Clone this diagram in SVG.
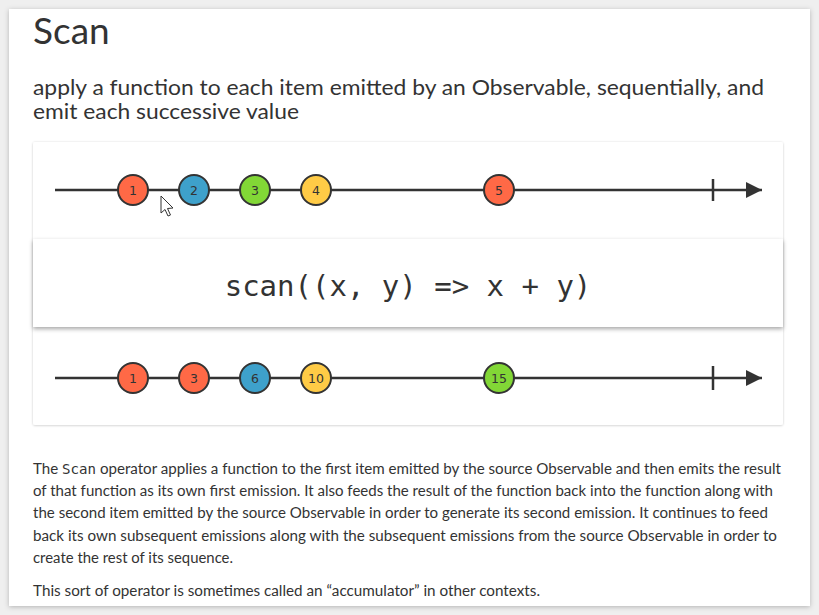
<svg xmlns="http://www.w3.org/2000/svg" width="819" height="615" viewBox="0 0 819 615">
<defs>
<style>
.title{font-family:Lato,"Open Sans",sans-serif;fill:#333;}
.body{font-family:Lato,"Open Sans",sans-serif;font-size:14.5px;fill:#333;}
.code{font-family:"DejaVu Sans Mono","Liberation Mono",monospace;}
.line{stroke:#333;stroke-width:2.5;fill:none;}
.m{stroke:#333;stroke-width:2;}
.lbl{font-family:"DejaVu Sans",Verdana,sans-serif;font-size:12.5px;fill:#333;text-anchor:middle;}
.red{fill:#ff6946;}.blue{fill:#3ea1cb;}.green{fill:#82d736;}.yellow{fill:#ffcb46;}
</style>
<filter id="cardShadow" x="-5%" y="-5%" width="110%" height="110%">
<feDropShadow dx="0" dy="1" stdDeviation="2.5" flood-color="#000" flood-opacity="0.25"/>
</filter>
<filter id="panelShadow" x="-5%" y="-10%" width="110%" height="120%">
<feDropShadow dx="0" dy="0.5" stdDeviation="1" flood-color="#000" flood-opacity="0.22"/>
</filter>
<filter id="opShadow" x="-5%" y="-20%" width="110%" height="140%">
<feDropShadow dx="0" dy="2" stdDeviation="2" flood-color="#000" flood-opacity="0.35"/>
</filter>
<marker id="arr" viewBox="0 0 16 16" refX="16" refY="8" markerWidth="16" markerHeight="16" markerUnits="userSpaceOnUse" orient="auto">
<path d="M0,0 L16,8 L0,16 Z" fill="#333"/>
</marker>
</defs>
<rect x="0" y="0" width="819" height="615" fill="#efefef"/>
<rect x="9" y="9" width="801" height="597" fill="#fff" filter="url(#cardShadow)"/>

<g id="header">
<text class="title" x="33" y="44" font-size="37">Scan</text>
<text class="title" x="33" y="95" font-size="21" textLength="731" lengthAdjust="spacingAndGlyphs">apply a function to each item emitted by an Observable, sequentially, and</text>
<text class="title" x="33" y="119" font-size="21" textLength="266" lengthAdjust="spacingAndGlyphs">emit each successive value</text>
</g>

<g id="panel">
<rect x="33" y="142" width="750" height="283" rx="2" fill="#fff" filter="url(#panelShadow)"/>
</g>

<g id="connectors">
<line class="line" x1="55" y1="190" x2="762" y2="190" marker-end="url(#arr)"/>
<line class="line" x1="713" y1="179" x2="713" y2="201"/>
<line class="line" x1="55" y1="378" x2="762" y2="378" marker-end="url(#arr)"/>
<line class="line" x1="713" y1="366" x2="713" y2="390"/>
</g>

<g id="input-1"><circle class="m red" cx="133" cy="190" r="15"/><text class="lbl" x="133" y="194.5">1</text></g>
<g id="input-2"><circle class="m blue" cx="194" cy="190" r="15"/><text class="lbl" x="194" y="194.5">2</text></g>
<g id="input-3"><circle class="m green" cx="255" cy="190" r="15"/><text class="lbl" x="255" y="194.5">3</text></g>
<g id="input-4"><circle class="m yellow" cx="316" cy="190" r="15"/><text class="lbl" x="316" y="194.5">4</text></g>
<g id="input-5"><circle class="m red" cx="499" cy="190" r="15"/><text class="lbl" x="499" y="194.5">5</text></g>

<g id="cursor">
<path d="M161,196 L161,213 L165,209.5 L168,216 L170.5,215 L167.5,208.5 L173,208 Z" fill="#fff" stroke="#333" stroke-width="1" stroke-linejoin="round"/>
</g>

<g id="operator">
<rect x="33" y="239" width="750" height="88" fill="#fff" filter="url(#opShadow)"/>
<text class="code" x="408" y="296" font-size="29" fill="#333" text-anchor="middle">scan((x, y) =&gt; x + y)</text>
</g>

<g id="output-1"><circle class="m red" cx="133" cy="378" r="15"/><text class="lbl" x="133" y="382.5">1</text></g>
<g id="output-3"><circle class="m red" cx="194" cy="378" r="15"/><text class="lbl" x="194" y="382.5">3</text></g>
<g id="output-6"><circle class="m blue" cx="255" cy="378" r="15"/><text class="lbl" x="255" y="382.5">6</text></g>
<g id="output-10"><circle class="m yellow" cx="316" cy="378" r="15"/><text class="lbl" x="316" y="382.5">10</text></g>
<g id="output-15"><circle class="m green" cx="499" cy="378" r="15"/><text class="lbl" x="499" y="382.5">15</text></g>

<g id="description">
<text class="body" x="33" y="474" textLength="748" lengthAdjust="spacingAndGlyphs">The <tspan class="code" font-size="13.5">Scan</tspan> operator applies a function to the first item emitted by the source Observable and then emits the result</text>
<text class="body" x="33" y="496" textLength="740" lengthAdjust="spacingAndGlyphs">of that function as its own first emission. It also feeds the result of the function back into the function along with</text>
<text class="body" x="33" y="518" textLength="735" lengthAdjust="spacingAndGlyphs">the second item emitted by the source Observable in order to generate its second emission. It continues to feed</text>
<text class="body" x="33" y="541" textLength="744" lengthAdjust="spacingAndGlyphs">back its own subsequent emissions along with the subsequent emissions from the source Observable in order to</text>
<text class="body" x="33" y="563" textLength="200" lengthAdjust="spacingAndGlyphs">create the rest of its sequence.</text>
<text class="body" x="33" y="596" textLength="507" lengthAdjust="spacingAndGlyphs">This sort of operator is sometimes called an “accumulator” in other contexts.</text>
</g>
</svg>
